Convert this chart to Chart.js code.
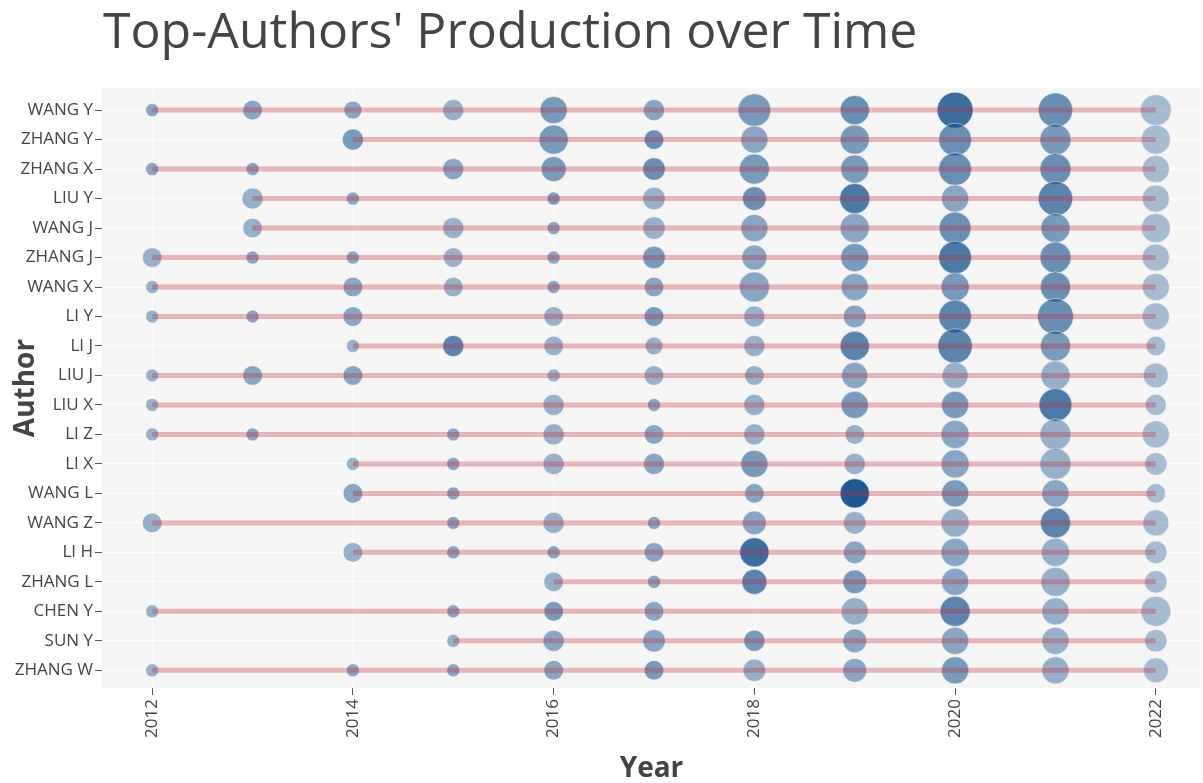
<!DOCTYPE html>
<html>
<head>
<meta charset="utf-8">
<script src="https://cdn.jsdelivr.net/npm/chart.js@4.4.1/dist/chart.umd.min.js"></script>
<style>
  html, body { margin: 0; padding: 0; background: #fff; }
  #wrap { position: relative; width: 1203px; height: 783px; }
  #title {
    position: absolute; left: 103px; top: 4px;
    font-family: 'Open Sans', sans-serif; font-size: 50px; line-height: 50px;
    color: #444; white-space: nowrap;
  }
  canvas { position: absolute; left: 0; top: 0; }
</style>
</head>
<body>
<div id="wrap">
  <div id="title">Top-Authors' Production over Time</div>
  <canvas id="chart" width="1203" height="783"></canvas>
</div>
<script>
const authors = ['WANG Y', 'ZHANG Y', 'ZHANG X', 'LIU Y', 'WANG J', 'ZHANG J', 'WANG X', 'LI Y', 'LI J', 'LIU J',
  'LIU X', 'LI Z', 'LI X', 'WANG L', 'WANG Z', 'LI H', 'ZHANG L', 'CHEN Y', 'SUN Y', 'ZHANG W'];
const years = [2012, 2013, 2014, 2015, 2016, 2017, 2018, 2019, 2020, 2021, 2022];
const yearTicks = [2012, 2014, 2016, 2018, 2020, 2022];

// articles per author per year (0 = nothing published that year)
const articles = [
  [1, 4, 3, 5, 10, 5, 16, 12, 20, 18, 14],
  [0, 0, 5, 0, 12, 4, 10, 12, 16, 14, 12],
  [1, 1, 0, 5, 8, 6, 13, 11, 16, 14, 10],
  [0, 5, 1, 0, 1, 6, 7, 13, 10, 18, 10],
  [0, 4, 0, 5, 1, 6, 10, 12, 15, 12, 12],
  [4, 1, 1, 4, 1, 6, 8, 11, 16, 14, 10],
  [1, 0, 4, 4, 1, 4, 13, 10, 11, 13, 10],
  [1, 1, 4, 0, 4, 4, 5, 6, 16, 20, 10],
  [0, 0, 1, 5, 4, 3, 5, 12, 18, 13, 4],
  [1, 4, 4, 0, 1, 4, 4, 9, 9, 12, 8],
  [1, 0, 0, 0, 5, 1, 5, 10, 10, 16, 5],
  [1, 1, 0, 1, 5, 4, 5, 4, 11, 14, 10],
  [0, 0, 1, 1, 5, 5, 10, 5, 11, 14, 6],
  [0, 0, 4, 1, 0, 0, 4, 12, 10, 10, 4],
  [4, 0, 0, 1, 5, 1, 7, 6, 11, 13, 9],
  [0, 0, 4, 1, 1, 4, 12, 6, 11, 11, 6],
  [0, 0, 0, 0, 4, 1, 8, 7, 10, 12, 6],
  [1, 0, 0, 1, 4, 4, 0, 10, 13, 10, 13],
  [0, 0, 0, 1, 5, 6, 5, 7, 10, 10, 6],
  [1, 0, 1, 1, 4, 4, 6, 7, 10, 10, 8]
];

// citations per year (drives the blue shade)
const tcPerYear = [
  [3, 3, 3, 2, 4, 3, 4, 5, 8, 5, 1],
  [0, 0, 4, 0, 4, 5, 3, 4, 5, 4, 1],
  [3, 3, 0, 3, 4, 5, 4, 4, 5, 5, 1],
  [0, 2, 3, 0, 4, 2, 5, 7, 3, 6, 1],
  [0, 2, 0, 2, 3, 2, 3, 3, 5, 4, 1],
  [2, 3, 3, 2, 3, 4, 3, 4, 7, 5, 1],
  [2, 0, 3, 2, 3, 3, 3, 3, 4, 5, 1],
  [2, 3, 3, 0, 2, 4, 2, 3, 6, 5, 1],
  [0, 0, 2, 6, 2, 2, 2, 6, 6, 4, 1],
  [2, 3, 3, 0, 2, 2, 2, 3, 2, 2, 1],
  [2, 0, 0, 0, 2, 3, 2, 4, 4, 7, 1],
  [2, 3, 0, 3, 2, 3, 2, 2, 3, 2, 1],
  [0, 0, 2, 3, 2, 3, 4, 2, 3, 2, 1],
  [0, 0, 3, 3, 0, 0, 3, 10, 4, 3, 1],
  [2, 0, 0, 3, 2, 3, 3, 2, 2, 6, 1],
  [0, 0, 2, 3, 3, 3, 8, 3, 3, 2, 1],
  [0, 0, 0, 0, 2, 3, 6, 4, 3, 2, 1],
  [2, 0, 0, 3, 4, 3, 0, 2, 6, 2, 1],
  [0, 0, 0, 2, 3, 3, 4, 3, 3, 2, 1],
  [2, 0, 3, 3, 3, 4, 2, 3, 4, 2, 1]
];

const tcMax = Math.max(...tcPerYear.flat());
const radius = f => 3.2 + 3.3 * Math.sqrt(f);
const shade = tc => 'rgba(16,78,139,' + (0.28 + 0.66 * tc / tcMax).toFixed(3) + ')';

const points = [];
const colors = [];
authors.forEach((a, i) => {
  years.forEach((yr, j) => {
    if (articles[i][j] > 0) {
      points.push({ x: yr, y: i, r: radius(articles[i][j]) });
      colors.push(shade(tcPerYear[i][j]));
    }
  });
});

const lineSets = authors.map((a, i) => {
  const first = articles[i].findIndex(v => v > 0);
  let last = 0;
  articles[i].forEach((v, j) => { if (v > 0) last = j; });
  return {
    type: 'line',
    data: [{ x: years[first], y: i }, { x: years[last], y: i }],
    borderColor: 'rgba(195,40,55,0.32)',
    borderWidth: 5,
    pointRadius: 0,
    order: 0
  };
});

const panelBg = {
  id: 'panelBg',
  beforeDraw(chart) {
    const { ctx, chartArea: c } = chart;
    ctx.save();
    ctx.fillStyle = '#f5f5f5';
    ctx.fillRect(c.left, c.top, c.right - c.left, c.bottom - c.top);
    ctx.restore();
  }
};

const tickFont = { family: 'Open Sans', size: 17 };
const titleFont = { family: 'Open Sans', size: 28, weight: 'bold', lineHeight: 1 };

new Chart(document.getElementById('chart'), {
  type: 'bubble',
  data: {
    datasets: [
      {
        data: points,
        backgroundColor: colors,
        borderColor: 'rgba(255,255,255,0.5)',
        borderWidth: 1,
        clip: false,
        order: 1
      },
      ...lineSets
    ]
  },
  options: {
    responsive: false,
    animation: false,
    layout: { autoPadding: false, padding: { top: 88, right: 2, left: 0, bottom: 0 } },
    plugins: { legend: { display: false }, tooltip: { enabled: false } },
    scales: {
      x: {
        type: 'linear',
        min: 2011.5,
        max: 2022.45,
        afterBuildTicks: s => { s.ticks = yearTicks.map(v => ({ value: v })); },
        afterFit: s => { s.height = 95; s.paddingLeft = 0; s.paddingRight = 0; },
        grid: { color: 'rgba(255,255,255,0.6)', tickColor: '#555', tickLength: 7 },
        border: { display: false },
        ticks: { font: tickFont, color: '#444', minRotation: 90, maxRotation: 90, padding: 4, callback: v => String(v) },
        title: { display: true, text: 'Year', font: titleFont, color: '#444', padding: { top: 0, bottom: 0 } }
      },
      y: {
        type: 'linear',
        reverse: true,
        min: -0.75,
        max: 19.6,
        afterBuildTicks: s => { s.ticks = authors.map((a, i) => ({ value: i })); },
        afterFit: s => { s.width = 102; s.paddingTop = 0; s.paddingBottom = 0; },
        grid: { color: 'rgba(255,255,255,0.8)', tickColor: '#555', tickLength: 7 },
        border: { display: false },
        ticks: { font: tickFont, color: '#444', padding: 2, callback: v => authors[v] },
        title: { display: true, text: 'Author', font: titleFont, color: '#444', padding: { top: 12, bottom: 0 } }
      }
    }
  },
  plugins: [panelBg]
});
</script>
</body>
</html>
